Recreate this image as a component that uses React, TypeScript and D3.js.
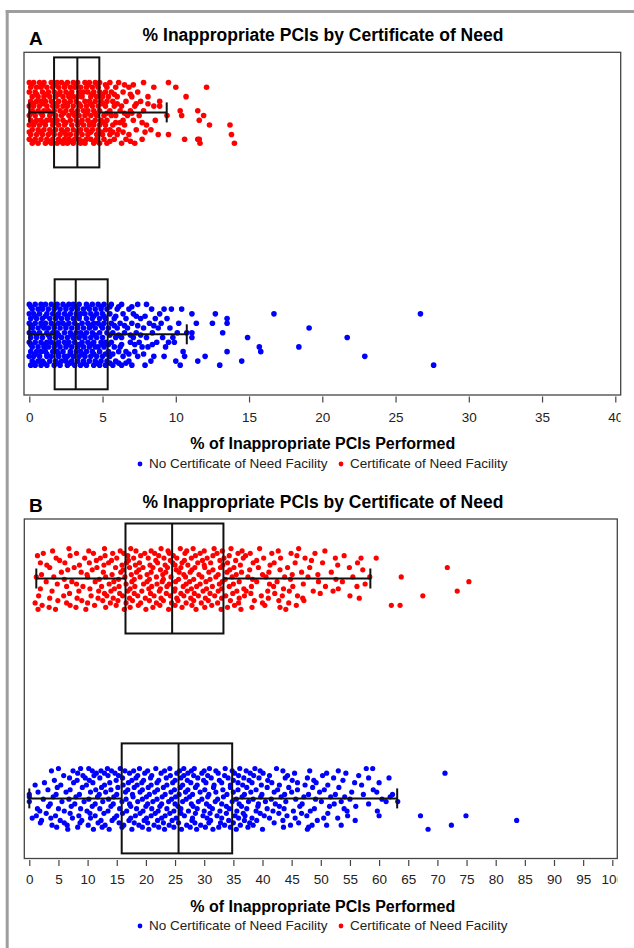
import React, { useRef, useEffect } from 'react';
import * as d3 from 'd3';

// groups from top to bottom in each panel
const groups = ['Certificate of Need Facility', 'No Certificate of Need Facility'];
const groupColors = ['#ff0000', '#0000ff'];
const legendOrder = [1, 0];

const ticksA = [0, 5, 10, 15, 20, 25, 30, 35, 40];
const ticksB = [0, 5, 10, 15, 20, 25, 30, 35, 40, 45, 50, 55, 60, 65, 70, 75, 80, 85, 90, 95, 100];

// box stats: [lower whisker, q1, median, q3, upper whisker]
const boxConA = [0, 1.69, 3.28, 4.78, 9.38];
const boxNoConA = [0, 1.73, 3.17, 5.35, 10.75];
const boxConB = [1.2, 16.5, 24.5, 33.3, 58.5];
const boxNoConB = [0, 15.85, 25.6, 34.8, 63.1];

// points, row by row: [jitter (-1..1), [% values]]
const conA = [
  [-0.95, [0.0, 0.3, 0.7, 1.0, 1.5, 1.9, 2.2, 2.6, 3.0, 3.3, 3.8, 4.1, 4.5, 4.8, 5.5, 6.1, 7.8, 9.5]],
  [-0.875, [0.15, 0.9, 1.75, 2.45, 3.2, 4.0, 4.65, 5.2, 6.5, 7.1]],
  [-0.8, [0.1, 0.5, 0.8, 1.2, 1.6, 2.0, 2.4, 2.8, 3.1, 3.5, 3.9, 4.3, 4.7, 5.3, 5.9, 6.8, 8.5, 10.0, 12.1]],
  [-0.65, [0.0, 0.4, 0.9, 1.3, 1.7, 2.1, 2.5, 2.9, 3.4, 3.7, 4.0, 4.4, 4.8, 5.2, 5.6, 6.4, 7.4]],
  [-0.575, [0.5, 1.2, 2.0, 2.7, 3.55, 4.3, 5.0, 5.8, 6.9]],
  [-0.5, [0.2, 0.6, 1.0, 1.4, 1.8, 2.3, 2.7, 3.0, 3.3, 3.6, 4.2, 4.6, 5.0, 5.4, 6.0, 7.0, 8.1, 10.7]],
  [-0.35, [0.1, 0.5, 0.8, 1.1, 1.5, 2.0, 2.4, 2.8, 3.2, 3.8, 4.1, 4.5, 4.9, 5.3, 5.7, 6.6, 7.6, 8.9]],
  [-0.275, [0.3, 1.0, 1.8, 2.6, 3.4, 4.2, 5.0, 6.0, 7.3, 8.1]],
  [-0.2, [0.0, 0.3, 0.7, 1.2, 1.6, 1.9, 2.3, 2.6, 3.0, 3.5, 3.9, 4.3, 4.7, 5.2, 5.8, 6.3, 7.2, 8.5, 8.9]],
  [-0.05, [0.2, 0.6, 1.0, 1.3, 1.7, 2.1, 2.5, 2.9, 3.3, 3.7, 4.0, 4.4, 4.8, 5.5, 6.2, 6.9, 7.8, 10.3, 11.5]],
  [0.025, [0.1, 0.8, 1.5, 2.35, 3.0, 3.9, 4.5, 5.3, 6.5, 7.0]],
  [0.1, [0.0, 0.4, 0.9, 1.4, 1.8, 2.2, 2.7, 3.1, 3.4, 3.8, 4.2, 4.6, 5.1, 5.6, 5.9, 6.7, 7.5, 9.4, 10.4, 11.9]],
  [0.25, [0.1, 0.5, 0.8, 1.2, 1.5, 1.9, 2.3, 2.8, 3.2, 3.6, 4.0, 4.5, 4.9, 5.3, 6.4, 7.1, 8.6, 11.6]],
  [0.325, [0.35, 1.0, 1.7, 2.5, 3.4, 4.3, 5.1, 5.9, 6.2, 7.7]],
  [0.4, [0.0, 0.3, 0.7, 1.1, 1.6, 2.0, 2.4, 2.9, 3.3, 3.7, 4.1, 4.4, 4.8, 5.2, 5.7, 6.5, 8.0, 12.3, 13.7]],
  [0.55, [0.2, 0.6, 1.0, 1.4, 1.8, 2.2, 2.6, 3.0, 3.5, 3.9, 4.3, 4.7, 5.2, 5.5, 6.1, 7.3, 8.3]],
  [0.625, [0.0, 0.8, 1.6, 2.4, 3.3, 4.2, 4.9, 5.7, 6.4, 7.9]],
  [0.7, [0.1, 0.5, 0.9, 1.3, 1.7, 2.1, 2.5, 2.8, 3.2, 3.6, 4.0, 4.6, 5.0, 5.5, 6.0, 6.8, 8.8, 9.5, 13.8]],
  [0.85, [0.0, 0.4, 0.8, 1.2, 1.6, 2.0, 2.4, 2.7, 3.1, 3.4, 3.9, 4.2, 4.6, 5.1, 5.8, 6.6, 7.7, 10.6, 11.5, 11.6]],
  [0.915, [0.3, 1.3, 2.1, 2.85, 3.65, 4.5, 5.5, 6.9]],
  [0.98, [0.2, 0.6, 1.1, 1.5, 1.9, 2.3, 2.6, 3.0, 3.5, 3.8, 4.4, 4.8, 5.3, 6.3, 7.2, 11.65, 14.0]],
];

const noConA = [
  [-0.95, [0.0, 0.4, 0.8, 1.1, 1.5, 1.9, 2.3, 2.7, 3.0, 3.4, 3.9, 4.3, 4.7, 5.1, 5.6, 6.3, 7.4, 8.0]],
  [-0.875, [0.1, 0.9, 1.8, 2.5, 3.2, 4.0, 4.9, 5.5, 6.1, 7.0]],
  [-0.8, [0.2, 0.6, 0.9, 1.3, 1.7, 2.1, 2.5, 2.9, 3.3, 3.7, 4.1, 4.5, 4.9, 5.3, 6.0, 6.8, 8.35, 9.2, 9.7, 10.4]],
  [-0.65, [0.0, 0.3, 0.7, 1.2, 1.6, 2.0, 2.4, 2.8, 3.2, 3.5, 3.8, 4.2, 4.6, 5.0, 5.5, 6.4, 7.1, 8.9, 11.1, 12.7, 16.7, 26.7]],
  [-0.575, [0.4, 1.1, 1.9, 2.6, 3.4, 4.4, 5.1, 5.9, 7.3, 7.9]],
  [-0.5, [0.1, 0.5, 0.9, 1.4, 1.8, 2.2, 2.6, 3.0, 3.4, 3.9, 4.3, 4.8, 5.2, 5.8, 6.6, 7.6, 8.6, 9.4, 13.5]],
  [-0.35, [0.0, 0.4, 0.8, 1.1, 1.5, 2.0, 2.3, 2.7, 3.1, 3.6, 4.0, 4.4, 4.7, 5.1, 5.6, 6.2, 7.0, 8.2, 9.0, 10.2, 11.4, 12.5, 13.5]],
  [-0.275, [0.2, 0.9, 1.7, 2.5, 3.3, 4.2, 4.9, 5.8, 6.5, 7.4, 8.5]],
  [-0.2, [0.2, 0.6, 1.0, 1.3, 1.7, 2.1, 2.5, 2.9, 3.3, 3.7, 4.1, 4.5, 5.0, 5.4, 6.0, 6.7, 7.8, 8.8, 9.6, 19.1]],
  [-0.05, [0.0, 0.3, 0.7, 1.2, 1.6, 1.9, 2.4, 2.8, 3.2, 3.5, 3.9, 4.3, 4.8, 5.3, 5.7, 6.5, 7.3, 8.4, 10.1, 10.75, 11.1, 13.2]],
  [0.025, [0.5, 1.3, 2.0, 2.9, 3.7, 4.5, 5.5, 6.1, 6.9, 7.6]],
  [0.1, [0.1, 0.5, 0.9, 1.4, 1.8, 2.2, 2.6, 3.0, 3.4, 3.8, 4.2, 4.6, 5.0, 5.9, 6.3, 7.1, 8.0, 9.1, 9.8, 11.1, 14.9, 21.7]],
  [0.25, [0.0, 0.4, 0.8, 1.2, 1.5, 2.0, 2.4, 2.7, 3.1, 3.6, 4.0, 4.4, 4.9, 5.2, 5.6, 6.9, 7.5, 8.7, 9.5, 9.9]],
  [0.325, [0.1, 1.0, 1.8, 2.6, 3.4, 4.2, 5.0, 5.4, 6.3, 7.2, 8.4]],
  [0.4, [0.2, 0.6, 1.0, 1.3, 1.7, 2.1, 2.5, 2.9, 3.3, 3.7, 4.1, 4.5, 4.7, 5.1, 5.8, 6.2, 7.7, 8.1, 9.3, 15.7, 18.4]],
  [0.55, [0.1, 0.5, 0.8, 1.1, 1.6, 1.9, 2.3, 2.8, 3.2, 3.5, 3.9, 4.3, 4.8, 5.4, 6.1, 6.6, 7.2, 10.5, 13.5, 15.8]],
  [0.625, [0.4, 1.2, 2.0, 2.8, 3.6, 4.4, 5.2, 5.7, 6.8, 7.8]],
  [0.7, [0.0, 0.3, 0.7, 1.2, 1.5, 2.0, 2.4, 2.6, 3.0, 3.4, 3.8, 4.2, 4.6, 5.0, 5.5, 6.4, 7.4, 8.5, 9.2, 10.6, 12.0, 22.9]],
  [0.85, [0.2, 0.6, 0.9, 1.4, 1.8, 2.2, 2.5, 2.9, 3.3, 3.7, 4.1, 4.5, 4.9, 5.3, 5.9, 6.8, 8.3, 10.0, 11.5, 14.5]],
  [0.915, [0.3, 1.0, 1.9, 2.8, 3.7, 4.6, 5.5, 6.1, 6.6]],
  [0.98, [0.1, 0.4, 0.8, 1.2, 1.7, 2.1, 2.6, 3.1, 3.5, 3.9, 4.4, 4.8, 5.2, 5.7, 6.3, 7.0, 7.9, 10.3, 13.0, 27.6]],
];

const conB = [
  [-0.95, [6.8, 12.9, 17.4, 22.6, 25.9, 28.1, 31.7, 34.6, 39.5, 46.2]],
  [-0.875, [4.0, 10.2, 15.6, 18.3, 20.9, 23.8, 27.0, 30.0, 33.1, 36.5, 42.7, 50.7]],
  [-0.8, [2.4, 8.1, 11.0, 14.3, 16.2, 19.8, 21.5, 24.0, 26.7, 29.3, 32.2, 35.8, 37.9, 41.6, 44.9, 49.0]],
  [-0.725, [1.4, 7.0, 13.0, 16.9, 19.1, 22.2, 24.7, 28.5, 31.5, 34.3, 37.1, 45.9, 54.0]],
  [-0.65, [4.6, 9.5, 12.2, 15.0, 17.9, 20.4, 23.1, 25.3, 27.8, 30.5, 33.4, 36.7, 40.2, 43.1, 47.3, 52.5, 56.9, 59.5]],
  [-0.575, [5.2, 11.5, 14.1, 17.0, 21.7, 24.2, 26.6, 29.7, 32.7, 35.4, 39.0, 48.4]],
  [-0.5, [1.9, 6.1, 10.3, 13.6, 16.7, 18.9, 22.0, 24.6, 26.2, 28.9, 31.1, 34.0, 38.4, 42.0, 45.6, 50.3, 56.3]],
  [-0.425, [3.0, 8.6, 12.8, 15.9, 18.2, 20.7, 23.3, 25.0, 27.2, 30.0, 33.2, 36.2, 41.3, 52.9]],
  [-0.35, [3.5, 7.7, 11.6, 14.8, 17.2, 19.5, 21.2, 23.7, 26.0, 28.4, 30.1, 32.8, 35.1, 39.3, 44.3, 48.1, 54.9, 71.7]],
  [-0.275, [6.6, 10.8, 16.1, 18.8, 22.5, 25.2, 27.9, 31.5, 34.4, 37.8, 43.0, 57.2]],
  [-0.2, [5.5, 8.9, 12.7, 15.7, 18.4, 20.9, 23.4, 25.7, 27.6, 30.8, 33.9, 36.4, 41.1, 46.7, 51.8]],
  [-0.125, [2.1, 9.9, 14.2, 17.5, 20.2, 22.9, 26.5, 29.1, 32.4, 35.5, 40.0, 45.1, 49.5]],
  [-0.05, [1.2, 4.2, 10.0, 13.1, 16.4, 19.0, 21.8, 24.3, 26.8, 29.6, 32.0, 34.8, 37.5, 40.6, 43.8, 47.8, 55.5, 58.4, 63.8]],
  [0.025, [6.0, 12.0, 15.3, 18.0, 20.6, 23.0, 25.6, 28.2, 31.0, 33.6, 38.3, 44.8, 52.6]],
  [0.1, [2.9, 7.3, 11.3, 14.5, 17.6, 20.2, 22.8, 25.1, 27.5, 30.3, 33.1, 36.0, 39.0, 42.5, 49.6, 53.7, 75.4]],
  [0.175, [4.8, 8.1, 13.7, 16.6, 19.6, 21.9, 24.0, 26.9, 29.3, 32.6, 35.0, 41.2, 47.0, 57.6]],
  [0.25, [6.4, 9.2, 12.4, 15.4, 18.1, 21.0, 23.6, 26.4, 28.7, 31.4, 34.3, 38.1, 41.9, 45.2, 50.8, 56.2]],
  [0.325, [1.9, 10.4, 14.6, 17.3, 20.5, 22.5, 25.0, 27.8, 30.4, 33.0, 36.8, 43.6, 53.0]],
  [0.4, [3.9, 8.5, 11.9, 14.0, 16.9, 19.3, 22.3, 24.9, 27.1, 29.8, 32.4, 35.6, 37.2, 40.9, 44.6, 48.7, 52.1, 73.4]],
  [0.475, [6.9, 12.9, 15.5, 18.0, 20.8, 23.5, 26.0, 28.3, 31.0, 34.9, 38.0, 42.1, 49.9]],
  [0.55, [1.6, 5.9, 10.6, 13.3, 16.0, 18.6, 21.4, 24.2, 26.5, 29.0, 31.8, 33.7, 36.9, 39.8, 43.4, 46.0, 55.0, 67.5]],
  [0.625, [3.5, 8.2, 11.8, 14.4, 17.2, 19.9, 22.6, 25.3, 27.7, 30.2, 33.0, 36.0, 41.0, 46.9, 56.6]],
  [0.7, [4.9, 9.0, 12.6, 15.2, 17.7, 20.6, 23.0, 25.5, 28.2, 30.7, 34.5, 38.6, 42.8, 47.1]],
  [0.775, [1.0, 6.4, 10.0, 13.9, 16.6, 19.1, 21.8, 24.4, 26.9, 29.5, 32.3, 35.9, 40.0, 44.5]],
  [0.85, [2.2, 7.0, 11.2, 14.9, 18.7, 22.4, 25.0, 27.9, 31.3, 35.2, 40.4, 45.8, 62.1, 63.6]],
  [0.915, [3.4, 8.0, 13.1, 17.3, 21.2, 26.2, 30.1, 34.0, 38.2, 43.0]],
  [0.98, [1.5, 4.5, 9.7, 16.3, 20.0, 23.9, 28.6, 32.9, 36.3, 44.0]],
];

const noConB = [
  [-0.95, [5.0, 8.8, 10.2, 13.4, 15.6, 18.9, 21.7, 24.1, 26.5, 28.3, 30.9, 33.6, 36.1, 38.7, 42.4, 57.8, 58.9]],
  [-0.875, [3.8, 7.5, 10.8, 12.3, 14.1, 16.4, 17.9, 20.3, 23.2, 25.8, 27.8, 30.0, 32.0, 34.8, 37.2, 39.6, 43.5, 48.1, 53.0]],
  [-0.8, [8.3, 11.5, 12.9, 14.7, 17.2, 19.8, 22.6, 25.3, 27.2, 29.6, 32.4, 35.2, 37.9, 40.1, 45.5, 51.0, 54.3, 71.3]],
  [-0.725, [5.9, 9.2, 11.1, 13.5, 15.3, 18.6, 21.0, 24.2, 26.5, 28.2, 30.6, 33.5, 35.9, 38.5, 41.2, 44.3, 50.3, 56.5]],
  [-0.65, [6.9, 9.6, 12.1, 16.0, 18.3, 20.8, 23.5, 26.0, 28.9, 31.2, 34.1, 36.8, 39.4, 43.9, 47.7, 52.2, 58.2, 61.7]],
  [-0.575, [4.3, 8.2, 10.3, 14.9, 17.6, 19.6, 22.2, 25.0, 27.1, 29.9, 32.6, 35.0, 37.7, 40.9, 45.1, 48.8, 53.8]],
  [-0.5, [2.6, 7.6, 10.9, 13.8, 17.0, 19.3, 21.9, 24.6, 27.7, 30.3, 33.0, 35.8, 38.2, 41.6, 46.0, 49.2, 55.8, 60.0]],
  [-0.425, [1.0, 5.4, 9.8, 12.9, 16.1, 18.5, 20.9, 23.6, 26.3, 28.8, 31.7, 34.5, 36.6, 39.8, 42.9, 47.3, 51.2, 57.0]],
  [-0.35, [4.8, 9.1, 12.4, 15.2, 18.0, 20.4, 23.0, 25.9, 28.5, 31.6, 34.5, 37.3, 40.8, 44.5, 48.6, 53.1]],
  [-0.275, [3.2, 7.0, 11.4, 14.0, 16.9, 19.4, 22.0, 24.9, 27.2, 30.1, 33.2, 35.8, 38.9, 42.6, 46.0, 50.6, 59.0]],
  [-0.2, [1.5, 6.3, 10.5, 13.1, 16.5, 19.0, 21.5, 24.3, 26.8, 29.3, 32.0, 35.0, 38.0, 42.0, 45.0, 49.8, 55.3, 59.6]],
  [-0.125, [0.0, 4.6, 8.6, 12.0, 15.0, 17.7, 20.6, 23.3, 25.7, 28.0, 30.8, 33.9, 36.9, 39.9, 43.8, 47.9, 52.5, 57.3, 62.3]],
  [-0.05, [0.0, 4.1, 8.0, 11.7, 14.5, 17.8, 20.1, 22.8, 25.1, 27.5, 30.6, 33.3, 36.5, 39.7, 43.2, 47.1, 51.7, 54.1, 61.9]],
  [0.025, [2.4, 6.8, 10.2, 13.6, 16.6, 19.4, 21.9, 24.4, 26.9, 29.6, 32.3, 35.5, 38.4, 41.5, 45.7, 49.1, 55.0, 60.5]],
  [0.1, [0.0, 5.6, 9.4, 12.6, 15.9, 18.6, 21.2, 23.9, 26.3, 29.0, 31.9, 34.8, 37.6, 40.5, 44.0, 50.1, 53.5, 61.2, 63.2]],
  [0.175, [3.6, 7.8, 11.3, 14.4, 17.2, 20.3, 22.7, 25.0, 27.8, 30.4, 33.0, 36.0, 39.3, 42.2, 46.8, 52.3, 58.2]],
  [0.25, [3.3, 7.2, 10.8, 14.0, 17.4, 20.0, 22.4, 25.5, 28.1, 30.9, 33.8, 36.4, 39.2, 42.9, 46.4, 51.5, 56.0]],
  [0.325, [1.4, 5.0, 8.8, 12.1, 15.5, 18.4, 21.0, 23.6, 26.0, 28.8, 31.4, 34.3, 37.3, 40.8, 43.7, 48.9, 54.0]],
  [0.4, [1.8, 6.0, 9.9, 13.5, 16.7, 19.5, 22.1, 24.8, 27.3, 30.0, 32.7, 35.6, 38.9, 41.8, 45.3, 48.2, 54.5, 59.7]],
  [0.475, [2.9, 7.0, 10.4, 12.8, 16.0, 19.0, 21.6, 24.1, 26.0, 28.5, 31.0, 33.8, 36.7, 39.6, 42.8, 46.7, 51.2]],
  [0.55, [1.2, 4.5, 8.5, 11.3, 15.0, 18.2, 20.9, 23.3, 26.6, 29.8, 32.2, 35.3, 37.0, 40.3, 44.2, 47.6, 54.6, 60.0, 67.1, 74.9]],
  [0.625, [0.5, 3.7, 7.4, 10.5, 14.6, 17.4, 20.1, 22.7, 25.2, 28.0, 30.5, 33.0, 35.9, 38.2, 41.2, 45.6, 50.5, 52.9]],
  [0.7, [2.1, 5.3, 9.0, 12.3, 14.2, 17.1, 19.7, 22.0, 24.5, 27.9, 31.1, 34.2, 36.9, 39.0, 43.5, 49.4, 55.9, 83.6]],
  [0.775, [1.9, 6.0, 8.7, 11.8, 15.4, 18.0, 20.3, 23.0, 25.6, 28.4, 30.8, 32.8, 35.0, 37.8, 42.0, 46.2]],
  [0.85, [3.9, 6.5, 10.1, 13.0, 16.2, 18.8, 21.4, 24.0, 27.0, 29.4, 33.5, 36.2, 38.4, 44.8, 48.5, 51.0, 53.5, 72.4]],
  [0.915, [4.7, 8.3, 12.5, 15.9, 19.4, 22.2, 24.8, 27.6, 30.2, 32.5, 34.5, 37.5, 43.6, 47.9]],
  [0.98, [6.6, 11.0, 13.7, 17.6, 20.5, 23.2, 26.1, 28.7, 31.5, 35.5, 40.0, 47.7, 68.4]],
];

const panels = [
  {
    label: 'A', rows: [conA, noConA], boxes: [boxConA, boxNoConA], ticks: ticksA, domain: [0, 40],
    x0: 29.3, x1: 615.3, frameL: 24, frameR: 620.7, top: 52.3, bottom: 395,
    centers: [112.4, 334.3], jitter: 31.5, r: 2.8,
    labelY: 45, titleY: 41, tickY: 421.5, xTitleY: 449, legendY: 468,
  },
  {
    label: 'B', rows: [conB, noConB], boxes: [boxConB, boxNoConB], ticks: ticksB, domain: [0, 100],
    x0: 29.3, x1: 612.3, frameL: 24.3, frameR: 617.3, top: 519, bottom: 858.5,
    centers: [578.5, 798.4], jitter: 31.5, r: 2.6,
    labelY: 512, titleY: 508, tickY: 884.3, xTitleY: 911.5, legendY: 930,
  },
];

const FONT = "'Liberation Sans', Arial, Helvetica, sans-serif";

const drawPanel = (svg, p, idx) => {
  const x = d3.scaleLinear().domain(p.domain).range([p.x0, p.x1]);
  const y = d3.scalePoint().domain(groups).range(p.centers);
  const jit = d3.scaleLinear().domain([-1, 1]).range([-p.jitter, p.jitter]);
  const g = svg.append('g');

  g.append('text')
    .attr('x', 29).attr('y', p.labelY)
    .attr('font-family', FONT).attr('font-weight', 'bold').attr('font-size', 19)
    .text(p.label);

  g.append('text')
    .attr('x', 323).attr('y', p.titleY)
    .attr('text-anchor', 'middle')
    .attr('font-family', FONT).attr('font-weight', 'bold').attr('font-size', 17.5)
    .text('% Inappropriate PCIs by Certificate of Need');

  g.append('rect')
    .attr('x', p.frameL).attr('y', p.top)
    .attr('width', p.frameR - p.frameL).attr('height', p.bottom - p.top)
    .attr('fill', 'white').attr('stroke', '#444').attr('stroke-width', 1.3);

  // jittered points
  groups.forEach((grp, i) => {
    const pts = p.rows[i].flatMap(([j, vals]) => vals.map(v => ({ v, j })));
    g.append('g').selectAll('circle')
      .data(pts)
      .join('circle')
      .attr('cx', d => x(d.v))
      .attr('cy', d => y(grp) + jit(d.j))
      .attr('r', p.r)
      .attr('fill', groupColors[i]);
  });

  // box plots
  groups.forEach((grp, i) => {
    const [lo, q1, med, q3, hi] = p.boxes[i];
    const cy = y(grp);
    const bg = g.append('g').attr('stroke', '#111').attr('stroke-width', 2).attr('fill', 'none');
    bg.append('rect').attr('x', x(q1)).attr('y', cy - 55).attr('width', x(q3) - x(q1)).attr('height', 110);
    bg.append('line').attr('x1', x(med)).attr('x2', x(med)).attr('y1', cy - 55).attr('y2', cy + 55);
    bg.append('line').attr('x1', x(lo)).attr('x2', x(q1)).attr('y1', cy).attr('y2', cy);
    bg.append('line').attr('x1', x(q3)).attr('x2', x(hi)).attr('y1', cy).attr('y2', cy);
    [lo, hi].forEach(v => {
      bg.append('line').attr('x1', x(v)).attr('x2', x(v)).attr('y1', cy - 10).attr('y2', cy + 10);
    });
  });

  // x axis, labels clipped at the frame's right edge
  const clipId = `clip-axis-${idx}`;
  svg.append('clipPath').attr('id', clipId)
    .append('rect').attr('x', 0).attr('y', p.bottom).attr('width', p.frameR).attr('height', 60);

  const axisY = p.bottom + 1.5;
  const ax = g.append('g')
    .attr('clip-path', `url(#${clipId})`)
    .append('g')
    .attr('transform', `translate(0,${axisY})`)
    .call(d3.axisBottom(x).tickValues(p.ticks).tickSize(6).tickFormat(d3.format('d')));
  ax.select('.domain').remove();
  ax.selectAll('line').attr('stroke', '#444').attr('stroke-width', 1.2);
  ax.selectAll('text')
    .attr('y', p.tickY - axisY).attr('dy', 0)
    .attr('fill', '#222')
    .attr('font-family', FONT).attr('font-size', 13.5);

  g.append('text')
    .attr('x', 322.7).attr('y', p.xTitleY)
    .attr('text-anchor', 'middle')
    .attr('font-family', FONT).attr('font-weight', 'bold').attr('font-size', 16)
    .text('% of Inappropriate PCIs Performed');

  // legend
  const legendPos = [140, 341];
  legendOrder.forEach((gi, k) => {
    g.append('circle')
      .attr('cx', legendPos[k]).attr('cy', p.legendY - 4)
      .attr('r', 2.4).attr('fill', groupColors[gi]);
    g.append('text')
      .attr('x', legendPos[k] + 9).attr('y', p.legendY)
      .attr('font-family', FONT).attr('font-size', 13.5).attr('fill', '#222')
      .text(groups[gi]);
  });
};

const App = () => {
  const svgRef = useRef(null);

  useEffect(() => {
    document.body.style.margin = '0';
    const svg = d3.select(svgRef.current);
    svg.selectAll('*').remove();

    svg.append('rect').attr('width', 634).attr('height', 948).attr('fill', 'white');
    // outer grey frame (only left and top edges visible)
    svg.append('line').attr('x1', 7.2).attr('x2', 7.2).attr('y1', 10).attr('y2', 948)
      .attr('stroke', '#9e9e9e').attr('stroke-width', 3);
    svg.append('line').attr('x1', 5.7).attr('x2', 634).attr('y1', 11.5).attr('y2', 11.5)
      .attr('stroke', '#9e9e9e').attr('stroke-width', 3);

    panels.forEach((p, i) => drawPanel(svg, p, i));
  }, []);

  return (
    <svg ref={svgRef} width={634} height={948}
      style={{ position: 'absolute', left: 0, top: 0, display: 'block' }} />
  );
};

export default App;
